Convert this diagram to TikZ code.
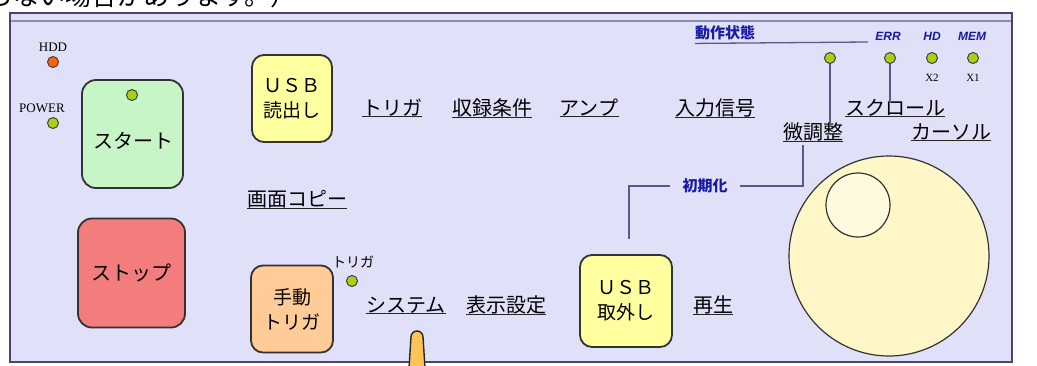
\documentclass[tikz,border=0pt]{standalone}
\usepackage{fontspec}
\newfontfamily\jpfont{Noto Sans CJK JP}
\newfontfamily\pixserif{Liberation Serif}
\newfontfamily\ledsans{Liberation Sans}
\usetikzlibrary{calc}

\definecolor{panelblue}{RGB}{224,224,248}
\definecolor{paneledge}{RGB}{70,70,110}
\definecolor{startgreen}{RGB}{200,245,200}
\definecolor{stopred}{RGB}{243,124,124}
\definecolor{usbyellow}{RGB}{255,255,160}
\definecolor{trigorange}{RGB}{255,203,150}
\definecolor{ledgreen}{RGB}{165,210,20}
\definecolor{ledorange}{RGB}{250,100,20}
\definecolor{knobyellow}{RGB}{255,247,200}
\definecolor{stateblue}{RGB}{25,25,165}
\definecolor{linkgray}{RGB}{90,90,140}
\definecolor{pointerorange}{RGB}{255,196,85}

\begin{document}
\begin{tikzpicture}[
x=1pt, y=-1pt, % pixel grid of the screen
btn/.style={draw=black!80, line width=1.8, rounded corners=14, inner sep=0pt, align=center, font=\jpfont\fontsize{19}{25}\selectfont},
menu/.style={inner sep=0pt, font=\jpfont\fontsize{20}{22}\selectfont,
  append after command={(\tikzlastnode.south west) edge[draw=black!85, line width=1.1] (\tikzlastnode.south east)}},
led/.style={circle, draw=black!75, line width=1, fill=ledgreen, minimum size=11, inner sep=0pt},
tag/.style={inner sep=0pt, font=\pixserif\fontsize{13}{14}\selectfont},
state/.style={inner sep=0pt, text=stateblue, font=\ledsans\bfseries\itshape\fontsize{12}{13}\selectfont},
hint/.style={inner sep=0pt, text=stateblue, font=\jpfont\bfseries\fontsize{15}{16}\selectfont},
link/.style={draw=linkgray, line width=1.3}
]
\clip (0,0) rectangle (1037,365);

% ================= Page text and panel =================

\node[anchor=base west, inner sep=0pt, font=\jpfont\fontsize{26}{28}\selectfont] (note) at (-13,5.5) {らない場合があります。）};

\draw[fill=panelblue, draw=paneledge, line width=1.3] (10,13) rectangle (1012,362);
\draw[draw=linkgray!70, line width=1.2] (11,21) -- (1011,21);

% ================= Lamps on the left =================

\node[tag] (hddtag) at (53,47) {HDD};
\node[led, fill=ledorange] (ledhdd) at (53,62) {};
\node[tag] (powertag) at (42,108) {POWER};
\node[led] (ledpower) at (53,123) {};

% ================= Buttons =================

\node[btn, fill=startgreen, minimum width=101, minimum height=108] (start) at (132.5,134) {};
\node[led] (ledstart) at (132,95) {};
\node[inner sep=0pt, font=\jpfont\fontsize{20}{22}\selectfont] (starttxt) at (133,141) {スタート};

\node[btn, fill=stopred, minimum width=107, minimum height=109, font=\jpfont\fontsize{20}{22}\selectfont] (stop) at (131.5,273) {ストップ};

\node[btn, rounded corners=12, fill=usbyellow, minimum width=80, minimum height=87] (usbread) at (292,98.5) {ＵＳＢ\\読出し};
\node[btn, rounded corners=12, fill=trigorange, minimum width=82, minimum height=87] (manualtrig) at (292,309) {手動\\トリガ};
\node[btn, rounded corners=12, fill=usbyellow, minimum width=92, minimum height=92] (usbeject) at (626,301) {ＵＳＢ\\取外し};

% ================= Menu items =================

\node[menu] (lbltrig) at (392,108) {トリガ};
\node[menu] (lblcond) at (492,108) {収録条件};
\node[menu] (lblamp) at (589,108) {アンプ};
\node[menu] (lblinput) at (715,108) {入力信号};
\node[menu] (lblscroll) at (895,108) {スクロール};
\node[menu] (lblfine) at (813,132) {微調整};
\node[menu] (lblcursor) at (951,132) {カーソル};
\node[menu] (lblcopy) at (297,199) {画面コピー};
\node[menu] (lblsys) at (406,305) {システム};
\node[menu] (lbldisp) at (506,305) {表示設定};
\node[menu] (lblplay) at (713,305) {再生};

\node[inner sep=0pt, font=\jpfont\fontsize{14}{15}\selectfont] (trigtag) at (353,262) {トリガ};
\node[led] (ledtrig) at (352,281) {};

% ================= Status lamps =================

\node[hint] (lblstate) at (725,33) {動作状態};
\coordinate (stateend) at (868,42);
\node[state] (lblerr) at (888,36) {ERR};
\node[state] (lblhd) at (932,36) {HD};
\node[state] (lblmem) at (972,36) {MEM};

\node[led] (ledstate) at (830,58) {};
\node[led] (lederr) at (890,58) {};
\node[led] (ledhd) at (932,58) {};
\node[led] (ledmem) at (973,58) {};
\node[tag, font=\pixserif\fontsize{11}{12}\selectfont] (x2tag) at (932,78) {X2};
\node[tag, font=\pixserif\fontsize{11}{12}\selectfont] (x1tag) at (973,78) {X1};

\node[hint] (lblinit) at (705,186) {初期化};

% ================= Jog dial =================

\node[circle, draw=black!80, line width=1.2, fill=knobyellow, minimum size=200, inner sep=0pt] (knob) at (889,256) {};
\node[circle, draw=black!80, line width=1.2, fill=knobyellow!60, minimum size=64, inner sep=0pt] (knobinner) at (858,205) {};

% ================= Connectors =================

\draw[link] ($(lblstate.south west)+(0,3)$) -- (stateend);
\draw[link] (ledstate) -- (ledstate |- lblfine.north);
\draw[link] (lederr) -- ($(lederr |- lblscroll.north)+(0,4)$);
\draw[link] ($(lblfine.south)+(-10,4)$) |- ($(lblinit.east)+(12,0)$);
\draw[link] ($(lblinit.west)+(-12,0)$) -| ($(usbeject.north)+(3,-15)$);

% ================= Pointer =================

\draw[fill=pointerorange, draw=black!85, line width=1.4] (409,368) -- (411,337) arc[start angle=180, end angle=360, radius=6] -- (425,368) -- cycle;

\end{tikzpicture}
\end{document}
